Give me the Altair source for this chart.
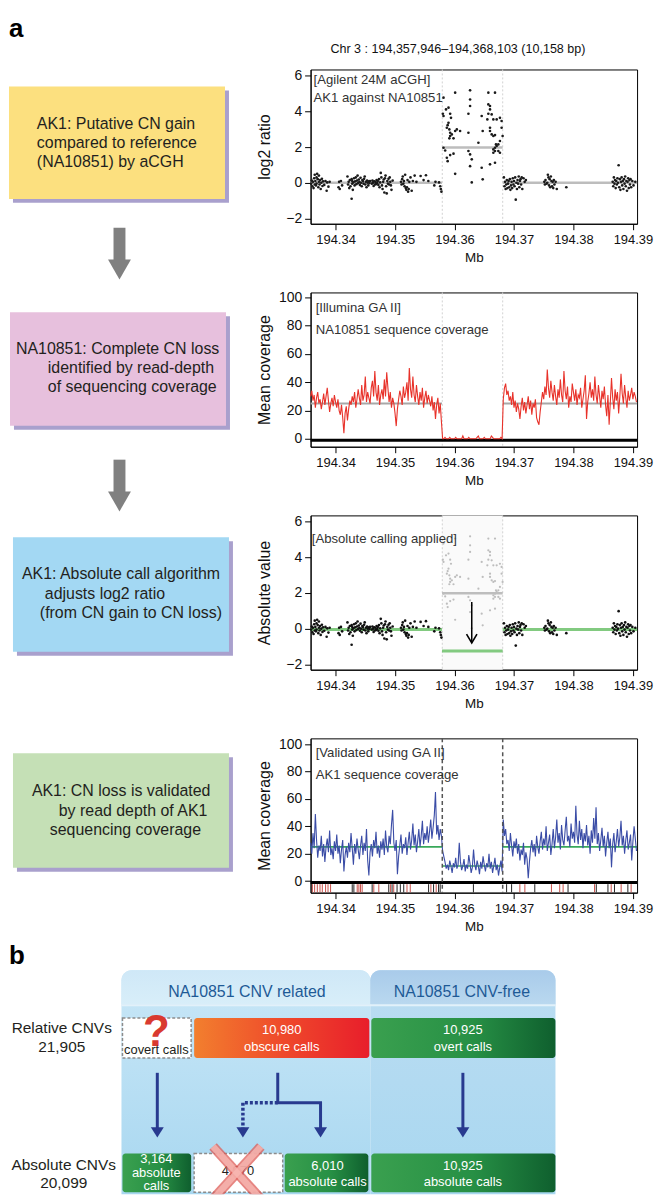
import altair as alt
import pandas as pd

FONT = "Liberation Sans"
INK = "#231F20"

# ====================== panel a : data ======================
GENE_BOUNDS = [194.357946, 194.368103]
X_TICKS = [194.34, 194.35, 194.36, 194.37, 194.38, 194.39]
X_DOMAIN = [194.3358, 194.3907]
REGION_TITLE = "Chr 3 : 194,357,946\u2013194,368,103 (10,158 bp)"

# aCGH probes outside the AK1 CNV (Mb, log2 ratio)
probes_out = [
    (194.3359, -0.05), (194.3360, 0.12), (194.3361, -0.20), (194.3362, 0.05), (194.3363, -0.30),
    (194.3364, 0.25), (194.3365, -0.10), (194.3365, 0.45), (194.3366, 0.10), (194.3367, -0.15),
    (194.3368, 0.30), (194.3368, -0.05), (194.3369, 0.50), (194.3370, 0.20), (194.3371, -0.25),
    (194.3372, 0.05), (194.3372, 0.40), (194.3373, -0.10), (194.3374, 0.15), (194.3375, -0.35),
    (194.3376, 0.00), (194.3377, 0.22), (194.3378, -0.18), (194.3379, 0.08), (194.3381, -0.12),
    (194.3383, 0.10), (194.3385, -0.45), (194.3386, 0.02), (194.3388, -0.22), (194.3390, 0.05),
    (194.3405, -0.25), (194.3406, 0.05), (194.3407, -0.35), (194.3409, 0.10), (194.3411, -0.15),
    (194.3420, 0.35), (194.3421, -0.10), (194.3422, 0.05), (194.3423, -0.30), (194.3424, 0.15),
    (194.3425, -0.20), (194.3427, -0.90), (194.3427, 0.20), (194.3428, -0.05), (194.3428, 0.10),
    (194.3429, -0.40), (194.3430, 0.02), (194.3431, 0.25), (194.3432, -0.15), (194.3433, 0.08),
    (194.3434, 0.30), (194.3435, -0.08), (194.3436, 0.12), (194.3437, 0.40), (194.3438, -0.02),
    (194.3439, 0.18), (194.3440, 0.05), (194.3441, -0.12), (194.3442, 0.28), (194.3443, 0.00),
    (194.3444, -0.20), (194.3445, 0.15), (194.3446, 0.10), (194.3447, -0.05), (194.3448, 0.22),
    (194.3449, 0.35), (194.3450, -0.10), (194.3451, 0.05), (194.3452, -0.25), (194.3453, 0.12),
    (194.3454, 0.00), (194.3455, -0.15), (194.3456, 0.08), (194.3457, -0.02), (194.3458, 0.10),
    (194.3461, -0.05), (194.3462, 0.12), (194.3463, 0.00), (194.3464, -0.18), (194.3465, 0.08),
    (194.3466, -0.10), (194.3467, 0.05), (194.3468, -0.08), (194.3469, 0.15), (194.3470, -0.02),
    (194.3471, 0.10), (194.3472, -0.12), (194.3473, 0.20), (194.3474, -0.25), (194.3475, 0.02),
    (194.3476, 0.55), (194.3477, 0.30), (194.3478, -0.15), (194.3479, -0.35), (194.3480, 0.05),
    (194.3481, 0.18), (194.3482, -0.55), (194.3483, 0.25), (194.3484, 0.40), (194.3485, -0.20),
    (194.3486, -0.60), (194.3487, 0.10), (194.3488, -0.05), (194.3489, 0.22), (194.3490, -0.10),
    (194.3491, 0.30), (194.3492, 0.05), (194.3493, -0.15), (194.3494, -0.40), (194.3496, 0.12),
    (194.3510, 0.05), (194.3511, -0.10), (194.3512, 0.20), (194.3513, 0.35), (194.3514, -0.05),
    (194.3515, 0.10), (194.3516, -0.20), (194.3517, 0.45), (194.3518, -0.30), (194.3519, -0.40),
    (194.3520, -0.25), (194.3521, 0.15), (194.3522, -0.50), (194.3523, -0.35), (194.3524, 0.05),
    (194.3526, 0.30), (194.3528, -0.45), (194.3530, 0.10), (194.3533, 0.40), (194.3536, 0.05),
    (194.3543, 0.38), (194.3548, 0.15), (194.3552, 0.42), (194.3556, 0.10), (194.3566, -0.15),
    (194.3568, 0.05), (194.3574, 0.02), (194.3576, -0.20), (194.3577, -0.35), (194.3578, -0.50),
    (194.3683, 0.30), (194.3684, -0.20), (194.3685, 0.05), (194.3686, -0.35), (194.3687, -0.10),
    (194.3688, 0.15), (194.3689, -0.30), (194.3690, -0.05), (194.3691, 0.10), (194.3692, -0.25),
    (194.3693, 0.20), (194.3694, -0.40), (194.3695, -0.15), (194.3696, 0.05), (194.3697, -0.30),
    (194.3698, 0.25), (194.3699, -0.10), (194.3700, 0.10), (194.3701, -0.20), (194.3702, 0.30),
    (194.3703, -0.95), (194.3704, 0.00), (194.3705, -0.35), (194.3706, 0.15), (194.3707, -0.05),
    (194.3708, 0.35), (194.3709, -0.25), (194.3710, 0.10), (194.3711, 0.20), (194.3712, -0.10),
    (194.3713, 0.30), (194.3714, -0.35), (194.3716, 0.25), (194.3718, 0.05), (194.3720, 0.15),
    (194.3751, 0.05), (194.3752, -0.10), (194.3753, 0.15), (194.3755, -0.05), (194.3756, 0.00),
    (194.3757, 0.45), (194.3758, 0.30), (194.3759, -0.15), (194.3760, 0.20), (194.3761, -0.25),
    (194.3762, 0.35), (194.3763, 0.10), (194.3764, -0.20), (194.3765, 0.05), (194.3766, -0.30),
    (194.3767, 0.15), (194.3768, -0.10), (194.3770, 0.05), (194.3772, -0.35), (194.3788, -0.25),
    (194.3866, 0.05), (194.3867, -0.20), (194.3868, 0.30), (194.3869, -0.05), (194.3870, 0.15),
    (194.3871, -0.30), (194.3872, 0.10), (194.3873, -0.10), (194.3874, 0.25), (194.3875, 0.00),
    (194.3876, 0.98), (194.3877, -0.25), (194.3878, 0.20), (194.3879, -0.40), (194.3880, 0.05),
    (194.3881, 0.30), (194.3882, -0.15), (194.3883, 0.10), (194.3884, -0.35), (194.3885, 0.20),
    (194.3886, -0.05), (194.3887, 0.35), (194.3888, -0.20), (194.3889, 0.10), (194.3890, -0.45),
    (194.3891, 0.05), (194.3892, 0.25), (194.3893, -0.30), (194.3894, 0.15), (194.3895, -0.10),
    (194.3896, 0.20), (194.3897, -0.25), (194.3899, 0.10), (194.3901, -0.15), (194.3904, 0.05),
]

# aCGH probes inside the AK1 CNV (Mb, log2 ratio)
probes_in = [
    (194.35815, 4.77), (194.35804, 3.87), (194.35815, 3.74), (194.35857, 4.11), (194.35899, 4.21),
    (194.35927, 3.87), (194.35941, 3.64), (194.35899, 3.36), (194.35885, 3.23), (194.35871, 3.08),
    (194.35913, 2.99), (194.35927, 2.80), (194.35955, 2.71), (194.35927, 2.62), (194.35913, 2.49),
    (194.35983, 2.49), (194.36011, 2.90), (194.36039, 2.99), (194.36094, 2.90), (194.36011, 5.05),
    (194.35815, 1.96), (194.35843, 1.81), (194.35871, 1.40), (194.35885, 1.21), (194.35927, 1.55),
    (194.35983, 1.63), (194.36011, 0.50), (194.36262, 5.18), (194.36262, 4.67), (194.36262, 4.30),
    (194.36234, 3.87), (194.36234, 2.80), (194.36234, 1.78), (194.36262, 1.59), (194.36290, 1.31),
    (194.36262, 0.93), (194.36290, 0.02), (194.36457, 3.74), (194.36474, 2.90), (194.36402, 2.24),
    (194.36457, 0.84), (194.36474, 0.19), (194.36569, 5.05), (194.36681, 5.05), (194.36569, 4.39),
    (194.36597, 4.30), (194.36597, 4.11), (194.36625, 3.83), (194.36569, 3.87), (194.36552, 3.55),
    (194.36653, 3.55), (194.36709, 3.55), (194.36764, 3.64), (194.36792, 3.46), (194.36597, 3.08),
    (194.36597, 2.90), (194.36625, 2.71), (194.36653, 2.62), (194.36681, 2.67), (194.36792, 3.08),
    (194.36809, 2.62), (194.36764, 2.34), (194.36737, 2.15), (194.36709, 2.06), (194.36681, 1.96),
    (194.36653, 1.87), (194.36653, 1.68), (194.36681, 1.78), (194.36737, 1.78), (194.36764, 1.68),
    (194.36597, 1.03), (194.36681, 1.12), (194.36697, 2.15),
]

# segment calls (start Mb, end Mb)
seg_start = [194.3358, 194.3579, 194.3681]
seg_end = [194.3579, 194.3681, 194.3907]
seg_log2 = [0.0, 1.98, 0.0]          # relative (aCGH) call
seg_absolute = [-0.05, -1.25, -0.05]  # absolute call
arrow_at = 194.3629

# read-depth windows
COV_STEP = 0.0002
COV_STARTS = [194.3358, 194.3580, 194.3682]
na_cov_left = [
    30, 34, 27, 31, 22, 29, 33, 25, 28, 21, 26, 32, 24, 30, 36, 27, 19, 25, 29, 23,
    31, 26, 22, 28, 20, 17, 24, 15, 4, 18, 23, 13, 21, 27, 24, 30, 26, 33, 22, 28,
    35, 29, 24, 38, 27, 31, 44, 26, 33, 29, 25, 36, 41, 30, 48, 33, 27, 38, 24, 31,
    35, 28, 42, 30, 47, 36, 26, 33, 22, 29, 25, 18, 9, 21, 28, 34, 30, 24, 37, 29,
    33, 40, 27, 50, 35, 29, 44, 31, 26, 38, 30, 24, 33, 27, 36, 22, 29, 34, 25, 31,
    27, 23, 30, 20, 26, 14, 24, 29, 18, 25, 12,
]
na_cov_mid = [
    0, 0, 1, 0, 0, 0, 1, 0, 0, 0, 0, 1, 0, 0, 0, 0, 0, 2, 0, 0,
    0, 0, 1, 0, 0, 0, 0, 0, 0, 1, 2, 0, 0, 0, 0, 1, 0, 0, 0, 0,
    0, 2, 1, 0, 0, 0, 0, 0, 0, 1, 0,
]
na_cov_right = [
    28, 36, 39, 31, 34, 27, 30, 24, 33, 22, 27, 19, 25, 21, 14, 23, 29, 20, 26, 18,
    24, 30, 21, 27, 17, 25, 22, 28, 15, 12, 10, 19, 26, 33, 28, 37, 31, 49, 36, 29,
    41, 33, 27, 38, 30, 24, 35, 29, 42, 31, 26, 48, 34, 28, 37, 22, 30, 26, 39, 33,
    27, 35, 24, 31, 29, 36, 22, 28, 34, 45, 14, 26, 32, 40, 29, 35, 27, 44, 31, 25,
    38, 30, 22, 34, 28, 37, 24, 16, 31, 10, 26, 43, 29, 21, 35, 27, 33, 18, 30, 46,
    32, 25, 38, 29, 22, 34, 27, 31, 36, 28, 33, 30, 26,
]
na_mean = [25, None, 25]

ak1_cov_left = [
    28, 20, 35, 24, 49, 30, 17, 26, 22, 33, 18, 27, 14, 25, 31, 21, 37, 19, 24, 16,
    29, 22, 34, 20, 26, 13, 23, 30, 7, 19, 25, 17, 28, 21, 35, 24, 12, 27, 20, 31,
    23, 16, 26, 33, 19, 28, 22, 38, 15, 4, 21, 27, 18, 30, 24, 36, 20, 26, 17, 29,
    23, 31, 19, 37, 25, 21, 33, 27, 41, 52, 28, 22, 30, 5, 18, 26, 34, 20, 27, 24,
    32, 19, 28, 36, 23, 30, 42, 26, 34, 21, 29, 38, 25, 33, 44, 27, 35, 30, 40, 28,
    36, 45, 31, 39, 48, 65, 34, 41, 30, 38, 33,
]
ak1_cov_mid = [
    22, 18, 14, 9, 12, 8, 15, 11, 6, 13, 10, 17, 9, 12, 28, 14, 8, 11, 16, 7,
    12, 9, 19, 13, 6, 10, 23, 12, 8, 15, 11, 5, 14, 9, 18, 12, 7, 13, 10, 20,
    9, 14, 6, 11, 17, 8, 12, 4, 10, 15, 7,
]
ak1_cov_right = [
    45, 33, 38, 27, 30, 22, 35, 26, 18, 29, 24, 31, 20, 27, 15, 23, 19, 28, 12, 21,
    16, 2, 14, 24, 30, 21, 27, 18, 33, 25, 20, 29, 36, 23, 31, 26, 40, 22, 28, 34,
    19, 27, 38, 24, 32, 45, 28, 35, 23, 41, 30, 26, 37, 47, 29, 33, 25, 42, 31, 36,
    28, 55, 34, 27, 44, 30, 38, 24, 35, 29, 41, 26, 33, 20, 37, 28, 46, 31, 54, 27,
    35, 22, 30, 39, 25, 33, 18, 28, 36, 24, 31, 10, 27, 35, 21, 29, 38, 25, 32, 44,
    26, 33, 20, 30, 37, 23, 28, 34, 15, 29, 40, 31, 22,
]
ak1_mean = [25, 11, 25]

# read positions shown in the rug under the AK1 coverage track
rug_pos = [
    194.33610, 194.33648, 194.33693, 194.33738, 194.33777, 194.33832, 194.33873, 194.33916,
    194.34280, 194.34308, 194.34364, 194.34392, 194.34419, 194.34447, 194.34615, 194.34643,
    194.34727, 194.34894, 194.34922, 194.34950, 194.34978, 194.35034, 194.35089, 194.35146,
    194.35201, 194.35256, 194.35564, 194.35603, 194.35648, 194.35692, 194.35732, 194.35759,
    194.36318, 194.36876, 194.36960, 194.37099, 194.37183, 194.37350, 194.37630, 194.37769,
    194.37826, 194.37909, 194.38355, 194.38384, 194.38580, 194.38635, 194.38690, 194.38802,
    194.38915, 194.38970,
]
rug_kind = [
    "r", "r", "r", "r", "r", "r", "r", "r",
    "k", "k", "r", "r", "r", "r", "k", "r",
    "r", "k", "r", "k", "r", "k", "k", "k",
    "r", "r", "k", "r", "k", "r", "k", "k",
    "k", "k", "k", "r", "r", "k", "r", "r",
    "r", "k", "r", "k", "k", "r", "k", "r",
    "k", "r",
]

# ====================== panel b : data ======================
col_headers = ["NA10851 CNV related", "NA10851 CNV-free"]
relative_label = ["Relative CNVs", "21,905"]
absolute_label = ["Absolute CNVs", "20,099"]
covert_text = "covert calls"
obscure_text = ["10,980", "obscure calls"]
overt_text = ["10,925", "overt calls"]
abs_covert_text = ["3,164", "absolute", "calls"]
lost_text = "4,970"
abs_obscure_text = ["6,010", "absolute calls"]
abs_overt_text = ["10,925", "absolute calls"]

step_text = [
    ["AK1: Putative CN gain", "compared to reference", "(NA10851) by aCGH"],
    ["NA10851: Complete CN loss", "identified by read-depth", "of sequencing coverage"],
    ["AK1: Absolute call algorithm", "adjusts log2 ratio", "(from CN gain to CN loss)"],
    ["AK1: CN loss is validated", "by read depth of AK1", "sequencing coverage"],
]

# ====================== helpers ======================
PW, PH = 328, 155


def xch(field="x"):
    return alt.X(field, type="quantitative",
                 scale=alt.Scale(domain=X_DOMAIN, nice=False, zero=False),
                 axis=alt.Axis(values=X_TICKS, format=".2f", title="Mb", labelFlush=False,
                               labelOverlap=False, tickSize=6, labelPadding=4, titlePadding=4,
                               labelFontSize=13, titleFontSize=13.5, titleFontWeight="normal",
                               grid=False, domainColor="black", tickColor="black",
                               labelColor="#111111", titleColor="#111111"))


def ych(field, dom, vals, title):
    return alt.Y(field, type="quantitative",
                 scale=alt.Scale(domain=dom, nice=False, zero=False),
                 axis=alt.Axis(values=vals, title=title, tickSize=6, labelPadding=3,
                               labelOverlap=False, titleX=-46, titleY=PH / 2,
                               titleBaseline="middle", titleFontSize=16, titleFontWeight="normal",
                               labelFontSize=14, grid=False, domainColor="black",
                               tickColor="black", labelColor="#111111", titleColor="#111111"))


def ann(df, ych_fn):
    return alt.Chart(df).mark_text(align="left", baseline="middle", fontSize=13.2,
                                   color="#333333").encode(x=xch("x"), y=ych_fn("y"), text="t:N")


def framed(*layers):
    return alt.layer(*layers).properties(width=PW, height=PH,
                                         view=alt.ViewBackground(stroke="black", strokeWidth=1))


df_out = pd.DataFrame(probes_out, columns=["x", "y"])
df_in = pd.DataFrame(probes_in, columns=["x", "y"])
df_bounds = pd.DataFrame({"x": GENE_BOUNDS})
df_seg = pd.DataFrame({"x": seg_start, "x2": seg_end, "rel": seg_log2, "abs": seg_absolute})


def cov_frame(parts):
    rows = []
    for start, vals in zip(COV_STARTS, parts):
        for i, v in enumerate(vals):
            rows.append({"x": round(start + i * COV_STEP, 5), "y": v})
    return pd.DataFrame(rows)


df_na = cov_frame([na_cov_left, na_cov_mid, na_cov_right])
df_ak1 = cov_frame([ak1_cov_left, ak1_cov_mid, ak1_cov_right])
df_na_mean = pd.DataFrame({"x": seg_start, "x2": seg_end, "m": na_mean}).dropna()
df_ak1_mean = pd.DataFrame({"x": seg_start, "x2": seg_end, "m": ak1_mean})
df_rug = pd.DataFrame({"x": rug_pos, "kind": rug_kind})
df_zero = pd.DataFrame({"y": [-1.0]})

# ---------------- plot 1 : aCGH ----------------
Y1 = lambda f: ych(f, [-2.3, 6.35], [-2, 0, 2, 4, 6], "log2 ratio")
p1 = framed(
    alt.Chart(df_bounds).mark_rule(color="#D2D2D2", strokeDash=[2, 2], strokeWidth=1).encode(x=xch()),
    alt.Chart(df_seg).mark_rule(color="#BDBDBD", strokeWidth=2.5).encode(x=xch(), x2="x2", y=Y1("rel")),
    alt.Chart(pd.concat([df_out, df_in])).mark_circle(size=7, color="#1A1A1A", opacity=1).encode(
        x=xch(), y=Y1("y")),
    ann(pd.DataFrame({"x": [194.3363, 194.3363], "y": [5.74, 4.73],
                      "t": ["[Agilent 24M aCGH]", "AK1 against NA10851"]}), Y1),
)

# ---------------- plot 2 : NA10851 coverage ----------------
Y2 = lambda f: ych(f, [-5.6, 103.5], [0, 20, 40, 60, 80, 100], "Mean coverage")
p2 = framed(
    alt.Chart(df_bounds).mark_rule(color="#D2D2D2", strokeDash=[2, 2], strokeWidth=1).encode(x=xch()),
    alt.Chart(df_na_mean).mark_rule(color="#A8A8A8", strokeWidth=2).encode(x=xch(), x2="x2", y=Y2("m")),
    alt.Chart(df_zero).mark_rule(color="black", strokeWidth=3).encode(y=Y2("y")),
    alt.Chart(df_na).mark_line(color="#E8322A", strokeWidth=1.1).encode(x=xch(), y=Y2("y")),
    ann(pd.DataFrame({"x": [194.33665, 194.33665], "y": [92.2, 76.7],
                      "t": ["[Illumina GA II]", "NA10851 sequence coverage"]}), Y2),
)

# ---------------- plot 3 : absolute calling ----------------
Y3 = lambda f: ych(f, [-2.3, 6.35], [-2, 0, 2, 4, 6], "Absolute value")
df_gain_seg = df_seg.iloc[[1]]
p3 = framed(
    alt.Chart(pd.DataFrame({"x": [GENE_BOUNDS[0]], "x2": [GENE_BOUNDS[1]]})).mark_rect(
        color="#FAFAFA").encode(x=xch(), x2="x2"),
    alt.Chart(df_bounds).mark_rule(color="#D2D2D2", strokeDash=[2, 2], strokeWidth=1).encode(x=xch()),
    alt.Chart(df_in).mark_circle(size=5, color="#BDBDBD", opacity=1).encode(x=xch(), y=Y3("y")),
    alt.Chart(df_gain_seg).mark_rule(color="#BDBDBD", strokeWidth=2.5).encode(x=xch(), x2="x2", y=Y3("rel")),
    alt.Chart(df_seg).mark_rule(color="#6CC16A", strokeWidth=3, opacity=0.85).encode(
        x=xch(), x2="x2", y=Y3("abs")),
    alt.Chart(df_out).mark_circle(size=7, color="#111111", opacity=1).encode(x=xch(), y=Y3("y")),
    alt.Chart(pd.DataFrame({"x": [arrow_at], "y": [1.5], "y2": [-0.78]})).mark_rule(
        color="black", strokeWidth=1.5).encode(x=xch(), y=Y3("y"), y2="y2"),
    alt.Chart(pd.DataFrame({"x": [arrow_at], "y": [-0.8]})).mark_point(
        shape="M -1 -1.7 L 0 0 L 1 -1.7", filled=False, size=110, strokeWidth=1.6,
        color="black", opacity=1).encode(x=xch(), y=Y3("y")),
    ann(pd.DataFrame({"x": [194.3360], "y": [5.01], "t": ["[Absolute calling applied]"]}), Y3),
)

# ---------------- plot 4 : AK1 coverage ----------------
Y4 = lambda f: ych(f, [-8.5, 104.3], [0, 20, 40, 60, 80, 100], "Mean coverage")
df_rug = df_rug.assign(top=-2.3, bottom=-8.3)
p4 = framed(
    alt.Chart(df_rug).mark_rule(strokeWidth=1).encode(
        x=xch(), y=Y4("top"), y2="bottom",
        color=alt.Color("kind:N", scale=alt.Scale(domain=["r", "k"], range=["#C8504A", "#222222"]),
                        legend=None)),
    alt.Chart(df_zero).mark_rule(color="black", strokeWidth=3).encode(y=Y4("y")),
    alt.Chart(df_ak1_mean).mark_rule(color="#38A85A", strokeWidth=1.6).encode(x=xch(), x2="x2", y=Y4("m")),
    alt.Chart(df_ak1).mark_line(color="#3A4CA6", strokeWidth=1.1).encode(x=xch(), y=Y4("y")),
    alt.Chart(df_bounds).mark_rule(color="#555555", strokeDash=[4, 3], strokeWidth=1.5).encode(x=xch()),
    ann(pd.DataFrame({"x": [194.33665, 194.33665], "y": [93.4, 77.4],
                      "t": ["[Validated using GA II]", "AK1 sequence coverage"]}), Y4),
)

# ====================== canvases (figure-pixel coordinates) ======================
FX0 = 10                    # figure x that maps to the chart's left edge
LEFT = (FX0, 8, 253, 930)   # left column of panel a (x0, y0, w, h)
HEAD = (313, 8, 328, 50)    # header above plot 1
PANB = (FX0, 938, 600, 256)  # panel b


def cX(f, box):
    x0, _, w, _ = box
    return alt.X(f, type="quantitative", scale=alt.Scale(domain=[x0, x0 + w], nice=False, zero=False),
                 axis=None)


def cY(f, box):
    _, y0, _, h = box
    return alt.Y(f, type="quantitative",
                 scale=alt.Scale(domain=[y0, y0 + h], nice=False, zero=False, reverse=True), axis=None)


def texts(df, box, **kw):
    return alt.Chart(df).mark_text(**kw).encode(x=cX("x", box), y=cY("y", box), text="t:N")


def rects(df, box, **kw):
    return alt.Chart(df).mark_rect(**kw).encode(x=cX("x1", box), x2="x2", y=cY("y1", box), y2="y2")


def rect_layer(box, x1, x2, y1, y2, **kw):
    return rects(pd.DataFrame({"x1": x1, "x2": x2, "y1": y1, "y2": y2}), box, **kw)


def canvas_props(chart, box):
    return chart.properties(width=box[2], height=box[3],
                            view=alt.ViewBackground(stroke="transparent"))


# header holding the region title (above plot 1)
header = canvas_props(texts(pd.DataFrame({"x": [461], "y": [45], "t": [REGION_TITLE]}), HEAD,
                            align="center", baseline="middle", fontSize=12.6, color="#111111"), HEAD)

# --- step boxes of panel a
box_lay = pd.DataFrame({
    "x1": [10, 11, 14, 14], "x2": [227, 228, 231, 231],
    "y1": [83, 310, 536, 753], "y2": [196, 424, 651, 868],
    "fill": ["#FCE07F", "#E7C0DD", "#A3D8F3", "#C5E0B6"],
})
shadow = box_lay.assign(x1=box_lay.x1 + 4, x2=box_lay.x2 + 4, y1=box_lay.y1 + 4, y2=box_lay.y2 + 4)
line_x = [[38, 38, 38], [17, 49, 49], [23, 46, 41], [33, 60, 51]]
line_y = [[121, 140, 159], [347, 366, 385], [573, 593, 612], [791, 811, 830]]
step_rows = []
for b in range(4):
    for k in range(3):
        step_rows.append({"x": line_x[b][k], "y": line_y[b][k], "t": step_text[b][k]})
df_step = pd.DataFrame(step_rows)

left_layers = [
    rects(shadow, LEFT, color="#A9A0CD"),
    alt.Chart(box_lay).mark_rect().encode(x=cX("x1", LEFT), x2="x2", y=cY("y1", LEFT), y2="y2",
                                          color=alt.Color("fill:N", scale=None)),
    texts(df_step, LEFT, align="left", baseline="middle", fontSize=16, color=INK),
    rect_layer(LEFT, [115, 115], [127, 127], [225, 458], [258, 491], color="#808080"),
    alt.Chart(pd.DataFrame({"x": [121, 121], "y": [277, 510]})).mark_point(
        shape="M -1 -1.74 L 1 -1.74 L 0 0 Z", filled=True, size=529, color="#808080", opacity=1,
        strokeWidth=0).encode(x=cX("x", LEFT), y=cY("y", LEFT)),
    texts(pd.DataFrame({"x": [10], "y": [33], "t": ["a"]}), LEFT,
          align="left", baseline="alphabetic", fontSize=26, fontWeight="bold", color="black"),
]
left_canvas = canvas_props(alt.layer(*left_layers), LEFT)


# --- panel b
def vgrad(top, bottom):
    return alt.LinearGradient(gradient="linear", x1=0, x2=0, y1=0, y2=1,
                              stops=[alt.GradientStop(color=top, offset=0),
                                     alt.GradientStop(color=bottom, offset=1)])


def hgrad(stops):
    return alt.LinearGradient(gradient="linear", x1=0, x2=1, y1=0, y2=0,
                              stops=[alt.GradientStop(color=c, offset=o) for o, c in stops])


B = PANB
b_layers = [
    texts(pd.DataFrame({"x": [10], "y": [963], "t": ["b"]}), B,
          align="left", baseline="alphabetic", fontSize=26, fontWeight="bold", color="black"),
    rect_layer(B, [123], [373], [969], [1194], fill=vgrad("#C9E7F7", "#A8D7F0"),
               cornerRadiusTopLeft=10, cornerRadiusTopRight=10),
    rect_layer(B, [373], [559], [969], [1194], fill=vgrad("#BCDDF2", "#A8D7F0"),
               cornerRadiusTopLeft=10, cornerRadiusTopRight=10),
    rect_layer(B, [123], [373], [969], [1003], fill=vgrad("#CFE8F7", "#D8EEF9"),
               cornerRadiusTopLeft=10, cornerRadiusTopRight=10),
    rect_layer(B, [373], [559], [969], [1003], fill=vgrad("#A9CBEA", "#B9D8EF"),
               cornerRadiusTopLeft=10, cornerRadiusTopRight=10),
    rect_layer(B, [123], [559], [1003], [1005], fill="#E2F1FA"),
    texts(pd.DataFrame({"x": [249, 465], "y": [991, 991], "t": col_headers}), B,
          align="center", baseline="middle", fontSize=16, color="#1E5A96"),
    texts(pd.DataFrame({"x": [63, 63, 65, 65], "y": [1027, 1046, 1165, 1183],
                        "t": relative_label + absolute_label}), B,
          align="center", baseline="middle", fontSize=15.5, color=INK),
    rect_layer(B, [124, 196], [193, 285], [1017, 1153], [1057, 1192], fill="white",
               stroke="#8C8C8C", strokeDash=[3, 2], strokeWidth=1.5),
    texts(pd.DataFrame({"x": [158], "y": [1045], "t": ["?"]}), B,
          align="center", baseline="alphabetic", fontSize=44, fontWeight="bold", color="#D93A30"),
    texts(pd.DataFrame({"x": [158, 240], "y": [1049, 1171], "t": [covert_text, lost_text]}), B,
          align="center", baseline="middle", fontSize=13, color=INK),
    rect_layer(B, [196], [372], [1017], [1057], cornerRadius=3,
               fill=hgrad([(0, "#F27F2E"), (0.5, "#EF4A2B"), (1, "#E81E2B")])),
    rect_layer(B, [374, 124, 287, 374], [559, 193, 371, 559], [1017, 1153, 1153, 1153],
               [1057, 1192, 1192, 1192], cornerRadius=3,
               fill=hgrad([(0, "#3AA04F"), (0.55, "#279045"), (1, "#0F5F2E")])),
    texts(pd.DataFrame({
        "x": [284, 284, 466, 466, 158, 158, 158, 330, 330, 466, 466],
        "y": [1029, 1046, 1029, 1046, 1159, 1173, 1186, 1166, 1182, 1166, 1182],
        "t": obscure_text + overt_text + abs_covert_text + abs_obscure_text + abs_overt_text}), B,
        align="center", baseline="middle", fontSize=13, color="white"),
]

solid_paths = pd.DataFrame({
    "pid": [0, 0, 1, 1, 1, 1, 2, 2],
    "o": [0, 1, 0, 1, 2, 3, 0, 1],
    "x": [159, 159, 280, 280, 323, 323, 466, 466],
    "y": [1072, 1128, 1072, 1102, 1102, 1128, 1072, 1128],
})
dotted_path = pd.DataFrame({"pid": [0, 0, 0], "o": [0, 1, 2], "x": [280, 245, 245],
                            "y": [1102, 1102, 1128]})
b_layers += [
    alt.Chart(solid_paths).mark_line(color="#283A8F", strokeWidth=3).encode(
        x=cX("x", B), y=cY("y", B), detail="pid:N", order="o:Q"),
    alt.Chart(dotted_path).mark_line(color="#283A8F", strokeWidth=3.5, strokeDash=[3, 2]).encode(
        x=cX("x", B), y=cY("y", B), detail="pid:N", order="o:Q"),
    alt.Chart(pd.DataFrame({"x": [159, 245, 323, 466], "y": [1137, 1137, 1137, 1137]})).mark_point(
        shape="M -1 -1.6 L 1 -1.6 L 0 0 Z", filled=True, size=169, color="#283A8F", opacity=1,
        strokeWidth=0).encode(x=cX("x", B), y=cY("y", B)),
]

cross = pd.DataFrame({"pid": [0, 0, 1, 1], "o": [0, 1, 0, 1],
                      "x": [215, 265, 263, 214], "y": [1146, 1201, 1146, 1200]})
b_layers += [
    alt.Chart(cross).mark_line(color="#DE5C57", strokeWidth=10, opacity=0.75, clip=True).encode(
        x=cX("x", B), y=cY("y", B), detail="pid:N", order="o:Q"),
    alt.Chart(cross).mark_line(color="#F7B8B3", strokeWidth=6.5, opacity=0.8, clip=True).encode(
        x=cX("x", B), y=cY("y", B), detail="pid:N", order="o:Q"),
]
panel_b = canvas_props(alt.layer(*b_layers), PANB)

plots = alt.vconcat(p1, p2, p3, p4, spacing=69, bounds="flush")
right_col = alt.vconcat(header, plots, spacing=8, bounds="flush")
row_a = alt.hconcat(left_canvas, right_col, spacing=50, bounds="flush")

chart = alt.vconcat(row_a, panel_b, spacing=0).properties(
    padding=0
).configure(font=FONT, background="white").configure_view(stroke="transparent")

chart.save("out.html", embed_options={"renderer": "svg", "actions": False})
